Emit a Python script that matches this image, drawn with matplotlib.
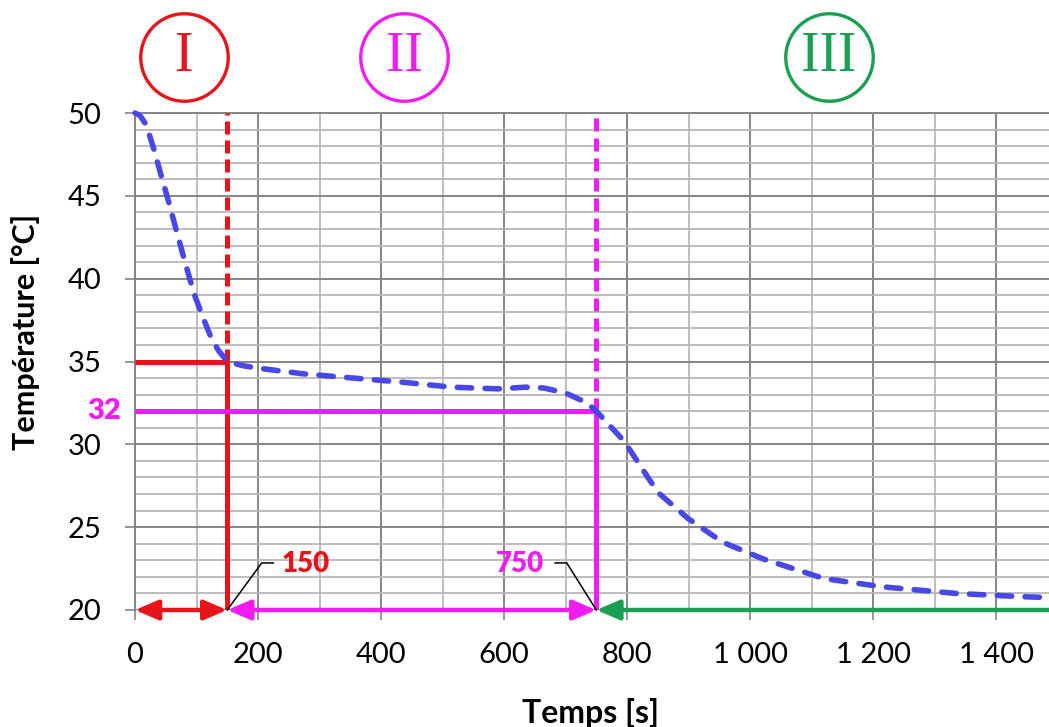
import matplotlib.pyplot as plt
import matplotlib.transforms as mtransforms
from matplotlib.ticker import MultipleLocator

# --- DATA ---
temps_s = [0, 8, 18, 30, 42, 55, 68, 82, 96, 110, 122, 135, 150, 175, 200,
           275, 355, 435, 515, 590, 635, 665, 700, 735, 750, 770, 795, 850,
           900, 955, 1020, 1120, 1215, 1335, 1445, 1490]
temp_c = [50, 49.85, 49.3, 47.9, 46.3, 44.6, 42.8, 40.9, 39.1, 37.7, 36.6,
          35.7, 35, 34.75, 34.6, 34.25, 34.0, 33.75, 33.45, 33.35, 33.45,
          33.4, 33.1, 32.5, 32.0, 31.2, 30.2, 27.1, 25.5, 24.1, 23.1, 21.9,
          21.4, 21.0, 20.8, 20.75]

t_phase1 = 150      # end of phase I
t_phase2 = 750      # end of phase II
T_phase1 = 35
T_phase2 = 32
phase_names = ["I", "II", "III"]
phase_centers = [80, 438, 1128]

x_ticks = [0, 200, 400, 600, 800, 1000, 1200, 1400]
x_tick_labels = ["0", "200", "400", "600", "800", "1 000", "1 200", "1 400"]
y_ticks = [20, 25, 30, 35, 40, 45, 50]

# --- COLOURS ---
RED = '#E8141C'
MAGENTA = '#F01CF0'
GREEN = '#1AA050'
BLUE = '#4848E6'
GRID_MAJOR = '#858585'
GRID_MINOR = '#B8B8B8'

plt.rcParams['font.family'] = ['Lato', 'DejaVu Sans']

fig = plt.figure(figsize=(10.49, 7.27), dpi=100)
ax = fig.add_axes([135 / 1049, 117 / 727, 914 / 1049, 497 / 727])

ax.set_xlim(0, 1486)
ax.set_ylim(20, 50)

# grid
ax.xaxis.set_major_locator(plt.FixedLocator(x_ticks))
ax.xaxis.set_minor_locator(MultipleLocator(100))
ax.yaxis.set_major_locator(plt.FixedLocator(y_ticks))
ax.yaxis.set_minor_locator(MultipleLocator(1))
ax.set_xticklabels(x_tick_labels)
ax.grid(which='major', color=GRID_MAJOR, linewidth=1.4, zorder=0)
ax.grid(which='minor', color=GRID_MINOR, linewidth=1.3, zorder=0)
ax.set_axisbelow(True)
ax.tick_params(which='major', length=7, width=1.2, color=GRID_MAJOR,
               labelsize=21)
ax.tick_params(axis='x', which='major', pad=16)
ax.tick_params(axis='y', which='major', pad=17)
ax.tick_params(which='minor', length=0)
for s in ['right', 'bottom']:
    ax.spines[s].set_visible(False)
for s in ['left', 'top']:
    ax.spines[s].set_color(GRID_MAJOR)
    ax.spines[s].set_linewidth(1.4)

# reference lines
ax.plot([0, t_phase1], [T_phase1, T_phase1], color=RED, lw=3.6, zorder=3,
        solid_capstyle='butt')
ax.plot([t_phase1, t_phase1], [20, T_phase1], color=RED, lw=3.6, zorder=3,
        solid_capstyle='butt')
ax.plot([t_phase1, t_phase1], [T_phase1, 50], color=RED, lw=3.6, zorder=3,
        dashes=(2.6, 1.2), dash_capstyle='butt')
ax.plot([0, t_phase2], [T_phase2, T_phase2], color=MAGENTA, lw=3.6, zorder=3,
        solid_capstyle='butt')
ax.plot([t_phase2, t_phase2], [20, T_phase2], color=MAGENTA, lw=3.6, zorder=3,
        solid_capstyle='butt')
ax.plot([t_phase2, t_phase2], [T_phase2, 50], color=MAGENTA, lw=3.6, zorder=3,
        dashes=(2.6, 1.4), dash_capstyle='butt')

# temperature curve
ax.plot(temps_s, temp_c, color=BLUE, lw=4.0, dashes=(2.6, 2.4),
        dash_capstyle='round', zorder=4, clip_on=False)

# phase arrows along the time axis
arrow_kw = dict(lw=3.2, shrinkA=0, shrinkB=0, mutation_scale=20)
ax.annotate('', xy=(0, 20), xytext=(t_phase1, 20), annotation_clip=False,
            arrowprops=dict(arrowstyle='<|-|>,head_length=0.7,head_width=0.3',
                            color=RED, **arrow_kw), zorder=5)
ax.annotate('', xy=(t_phase1, 20), xytext=(t_phase2, 20), annotation_clip=False,
            arrowprops=dict(arrowstyle='<|-|>,head_length=0.7,head_width=0.3',
                            color=MAGENTA, **arrow_kw), zorder=5)
ax.annotate('', xy=(t_phase2, 20), xytext=(1486, 20), annotation_clip=False,
            arrowprops=dict(arrowstyle='-|>,head_length=0.7,head_width=0.3',
                            color=GREEN, **arrow_kw), zorder=5)

# leader lines and values
ax.plot([t_phase1, 206, 225], [20, 22.84, 22.84], color='black', lw=1.1,
        zorder=6, clip_on=False)
ax.text(238, 22.75, str(t_phase1), color=RED, fontsize=20, fontweight='heavy',
        ha='left', va='center')
ax.plot([t_phase2, 702, 683], [20, 22.84, 22.84], color='black', lw=1.1,
        zorder=6, clip_on=False)
ax.text(665, 22.75, str(t_phase2), color=MAGENTA, fontsize=20,
        fontweight='heavy', ha='right', va='center')

trans_y = mtransforms.blended_transform_factory(ax.transAxes, ax.transData)
ax.text(-0.015, T_phase2, str(T_phase2), transform=trans_y, color=MAGENTA,
        fontsize=21, fontweight='heavy', ha='right', va='center')

# phase circles
trans_x = mtransforms.blended_transform_factory(ax.transData, ax.transAxes)
for name, xc, col in zip(phase_names, phase_centers, [RED, MAGENTA, GREEN]):
    ax.plot([xc], [1.113], marker='o', ms=63, mfc='none', mec=col, mew=2.4,
            transform=trans_x, clip_on=False)
    ax.text(xc, 1.113, name, transform=trans_x, color=col, fontsize=40,
            family='Liberation Serif', ha='center', va='center')

ax.set_xlabel('Temps [s]', fontsize=23, fontweight='bold')
ax.xaxis.set_label_coords(0.498, -0.178)
ax.set_ylabel('Température [°C]', fontsize=22, fontweight='bold')
ax.yaxis.set_label_coords(-0.104, 0.56)

fig.savefig('out.png', dpi=100)
